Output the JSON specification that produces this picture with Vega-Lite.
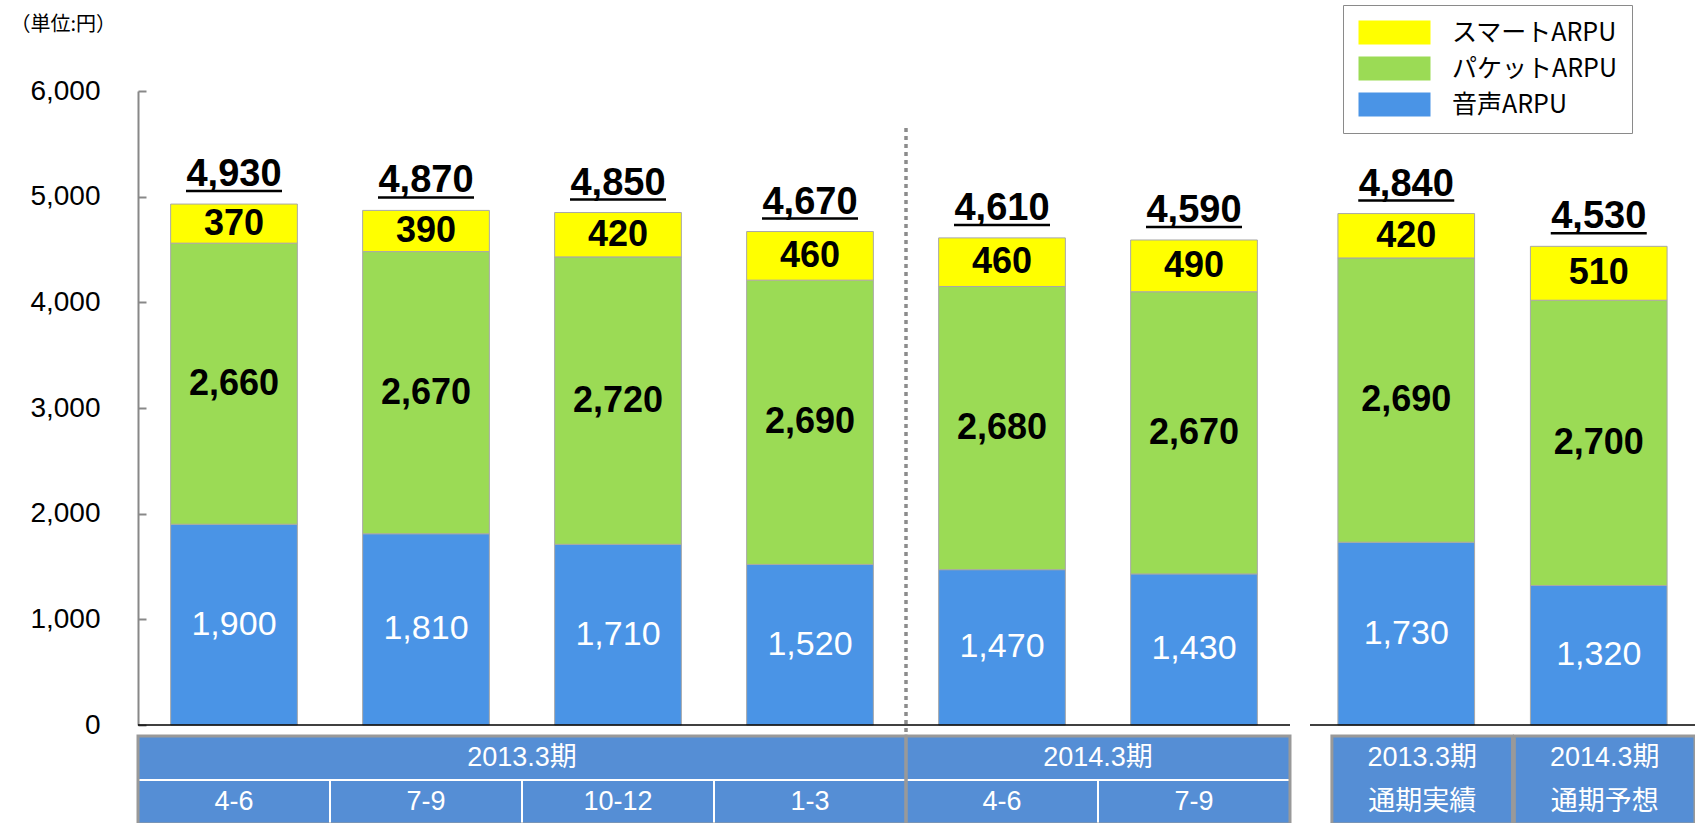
{
  "$schema": "https://vega.github.io/schema/vega-lite/v6.json",
  "background": "white",
  "padding": {"left": 10, "top": 4, "right": 0, "bottom": 0},
  "autosize": {"type": "pad"},
  "config": {"view": {"stroke": null}, "font": "Liberation Sans"},
  "datasets": {
    "quarterly": [
      {"key": "2013.3期 4-6", "type": "音声ARPU", "value": 1900},
      {"key": "2013.3期 4-6", "type": "パケットARPU", "value": 2660},
      {"key": "2013.3期 4-6", "type": "スマートARPU", "value": 370},
      {"key": "2013.3期 7-9", "type": "音声ARPU", "value": 1810},
      {"key": "2013.3期 7-9", "type": "パケットARPU", "value": 2670},
      {"key": "2013.3期 7-9", "type": "スマートARPU", "value": 390},
      {"key": "2013.3期 10-12", "type": "音声ARPU", "value": 1710},
      {"key": "2013.3期 10-12", "type": "パケットARPU", "value": 2720},
      {"key": "2013.3期 10-12", "type": "スマートARPU", "value": 420},
      {"key": "2013.3期 1-3", "type": "音声ARPU", "value": 1520},
      {"key": "2013.3期 1-3", "type": "パケットARPU", "value": 2690},
      {"key": "2013.3期 1-3", "type": "スマートARPU", "value": 460},
      {"key": "2014.3期 4-6", "type": "音声ARPU", "value": 1470},
      {"key": "2014.3期 4-6", "type": "パケットARPU", "value": 2680},
      {"key": "2014.3期 4-6", "type": "スマートARPU", "value": 460},
      {"key": "2014.3期 7-9", "type": "音声ARPU", "value": 1430},
      {"key": "2014.3期 7-9", "type": "パケットARPU", "value": 2670},
      {"key": "2014.3期 7-9", "type": "スマートARPU", "value": 490}
    ],
    "annual": [
      {"key": "2013.3期 通期実績", "type": "音声ARPU", "value": 1730},
      {"key": "2013.3期 通期実績", "type": "パケットARPU", "value": 2690},
      {"key": "2013.3期 通期実績", "type": "スマートARPU", "value": 420},
      {"key": "2014.3期 通期予想", "type": "音声ARPU", "value": 1320},
      {"key": "2014.3期 通期予想", "type": "パケットARPU", "value": 2700},
      {"key": "2014.3期 通期予想", "type": "スマートARPU", "value": 510}
    ],
    "ltable_cells": [
      {"key": "2013.3期 4-6", "row": "top"},
      {"key": "2013.3期 7-9", "row": "top"},
      {"key": "2013.3期 10-12", "row": "top"},
      {"key": "2013.3期 1-3", "row": "top"},
      {"key": "2014.3期 4-6", "row": "top"},
      {"key": "2014.3期 7-9", "row": "top"},
      {"key": "2013.3期 4-6", "row": "bottom", "label": "4-6"},
      {"key": "2013.3期 7-9", "row": "bottom", "label": "7-9"},
      {"key": "2013.3期 10-12", "row": "bottom", "label": "10-12"},
      {"key": "2013.3期 1-3", "row": "bottom", "label": "1-3"},
      {"key": "2014.3期 4-6", "row": "bottom", "label": "4-6"},
      {"key": "2014.3期 7-9", "row": "bottom", "label": "7-9"}
    ],
    "ltable_groups": [
      {"group": "2013.3期", "start": "2013.3期 4-6", "end": "2013.3期 1-3", "mid": "2013.3期 7-9"},
      {"group": "2014.3期", "start": "2014.3期 4-6", "end": "2014.3期 7-9", "mid": "2014.3期 4-6"}
    ],
    "rtable": [
      {"key": "2013.3期 通期実績", "label": "2013.3期\n通期実績"},
      {"key": "2014.3期 通期予想", "label": "2014.3期\n通期予想"}
    ]
  },
  "spacing": 17,
  "resolve": {"scale": {"color": "shared", "x": "independent", "y": "independent"}},
  "hconcat": [
    {
      "vconcat": [
        {
          "width": 1152,
          "height": 634,
          "layer": [
            {
              "data": {"name": "quarterly"},
              "mark": {"type": "bar", "stroke": "#a8a8a8", "strokeWidth": 1},
              "encoding": {
                "x": {"field": "key", "type": "nominal", "axis": null, "sort": null,
                      "scale": {"domain": ["2013.3期 4-6", "2013.3期 7-9", "2013.3期 10-12", "2013.3期 1-3", "2014.3期 4-6", "2014.3期 7-9"], "paddingInner": 0.34, "paddingOuter": 0.17}},
                "y": {"field": "value", "type": "quantitative", "stack": "zero",
                      "scale": {"domain": [0, 6000], "nice": false},
                      "axis": {"values": [0, 1000, 2000, 3000, 4000, 5000, 6000], "format": ",.0f", "grid": false,
                               "labelFont": "Liberation Sans", "labelFontSize": 28, "labelColor": "black", "labelPadding": 46,
                               "tickSize": -8, "tickColor": "#888888", "tickWidth": 2,
                               "domainColor": "#888888", "domainWidth": 2,
                               "title": "（単位:円）", "titleAngle": 0, "titleX": -128, "titleY": -67,
                               "titleAlign": "left", "titleBaseline": "middle", "titleFont": "Noto Sans CJK JP",
                               "titleFontSize": 20, "titleFontWeight": "normal", "titleColor": "black"}},
                "color": {"field": "type", "type": "nominal",
                          "scale": {"domain": ["スマートARPU", "パケットARPU", "音声ARPU"], "range": ["#FFFF00", "#9BDB55", "#4A94E6"]},
                          "legend": {"orient": "none", "legendX": 1205, "legendY": -86, "title": null,
                                     "labelFont": "Noto Sans CJK JP", "labelFontSize": 25, "labelColor": "black", "labelLimit": 400,
                                     "symbolType": "M-1,-1H5V1H-1Z", "symbolSize": 576, "symbolStrokeWidth": 0, "symbolOpacity": 1,
                                     "labelOffset": 69, "rowPadding": 10, "padding": 15,
                                     "strokeColor": "#8a8a8a", "fillColor": "white"}},
                "order": {"field": "type", "sort": "descending"}
              }
            },
            {
              "data": {"name": "quarterly"},
              "mark": {"type": "text", "font": "Liberation Sans", "fontSize": 36, "fontWeight": "bold", "color": "black", "baseline": "middle"},
              "encoding": {
                "x": {"field": "key", "type": "nominal", "axis": null},
                "y": {"field": "value", "type": "quantitative", "stack": "zero", "bandPosition": 0.5},
                "detail": {"field": "type", "type": "nominal"},
                "order": {"field": "type", "sort": "descending"},
                "text": {"condition": {"test": "datum.type !== '音声ARPU'", "field": "value", "type": "quantitative", "format": ","}, "value": ""}
              }
            },
            {
              "data": {"name": "quarterly"},
              "mark": {"type": "text", "font": "Liberation Sans", "fontSize": 34, "fontWeight": "normal", "color": "white", "baseline": "middle"},
              "encoding": {
                "x": {"field": "key", "type": "nominal", "axis": null},
                "y": {"field": "value", "type": "quantitative", "stack": "zero", "bandPosition": 0.5},
                "detail": {"field": "type", "type": "nominal"},
                "order": {"field": "type", "sort": "descending"},
                "text": {"condition": {"test": "datum.type === '音声ARPU'", "field": "value", "type": "quantitative", "format": ","}, "value": ""}
              }
            },
            {
              "data": {"name": "quarterly"},
              "mark": {"type": "text", "font": "Liberation Sans", "fontSize": 38, "fontWeight": "bold", "color": "black", "baseline": "alphabetic", "dy": -18},
              "encoding": {
                "x": {"field": "key", "type": "nominal", "axis": null},
                "y": {"aggregate": "sum", "field": "value", "type": "quantitative"},
                "text": {"aggregate": "sum", "field": "value", "type": "quantitative", "format": ","}
              }
            },
            {
              "data": {"name": "quarterly"},
              "mark": {"type": "tick", "color": "black", "size": 96, "thickness": 2.5, "yOffset": -13, "opacity": 1},
              "encoding": {
                "x": {"field": "key", "type": "nominal", "axis": null},
                "y": {"aggregate": "sum", "field": "value", "type": "quantitative"}
              }
            },
            {
              "data": {"values": [{}]},
              "mark": {"type": "rule", "color": "black", "strokeWidth": 1.5},
              "encoding": {"y": {"datum": 0}}
            },
            {
              "data": {"values": [{}]},
              "mark": {"type": "rule", "color": "#8c8c8c", "strokeWidth": 3.5, "strokeDash": [4, 4]},
              "encoding": {
                "x": {"datum": "2014.3期 4-6", "bandPosition": -0.2576},
                "y": {"datum": 5650},
                "y2": {"datum": -104}
              }
            }
          ]
        },
        {
          "width": 1152,
          "height": 88,
          "layer": [
            {
              "data": {"name": "ltable_cells"},
              "transform": [{"filter": "datum.row === 'top'"}],
              "mark": {"type": "rect", "color": "#558ED5", "strokeWidth": 0},
              "encoding": {
                "x": {"field": "key", "type": "nominal", "axis": null,
                      "scale": {"domain": ["2013.3期 4-6", "2013.3期 7-9", "2013.3期 10-12", "2013.3期 1-3", "2014.3期 4-6", "2014.3期 7-9"], "paddingInner": 0, "paddingOuter": 0}},
                "y": {"field": "row", "type": "nominal", "axis": null,
                      "scale": {"domain": ["top", "bottom"], "paddingInner": 0, "paddingOuter": 0}}
              }
            },
            {
              "data": {"name": "ltable_cells"},
              "transform": [{"filter": "datum.row === 'bottom'"}],
              "mark": {"type": "rect", "color": "#558ED5", "stroke": "white", "strokeWidth": 2},
              "encoding": {
                "x": {"field": "key", "type": "nominal", "axis": null},
                "y": {"field": "row", "type": "nominal", "axis": null}
              }
            },
            {
              "data": {"name": "ltable_cells"},
              "transform": [{"filter": "datum.row === 'bottom'"}],
              "mark": {"type": "text", "font": "Liberation Sans, Noto Sans CJK JP", "fontSize": 27, "color": "white", "baseline": "middle"},
              "encoding": {
                "x": {"field": "key", "type": "nominal", "axis": null},
                "y": {"field": "row", "type": "nominal", "axis": null},
                "text": {"field": "label", "type": "nominal"}
              }
            },
            {
              "data": {"name": "ltable_groups"},
              "mark": {"type": "rect", "filled": false, "color": "#999999", "strokeWidth": 3},
              "encoding": {
                "x": {"field": "start", "type": "nominal", "bandPosition": 0, "axis": null},
                "x2": {"field": "end", "bandPosition": 1}
              }
            },
            {
              "data": {"name": "ltable_groups"},
              "mark": {"type": "text", "font": "Liberation Sans, Noto Sans CJK JP", "fontSize": 27, "color": "white", "baseline": "middle"},
              "encoding": {
                "x": {"field": "mid", "type": "nominal", "bandPosition": 1, "axis": null},
                "y": {"datum": "top"},
                "text": {"field": "group", "type": "nominal"}
              }
            }
          ]
        }
      ],
      "spacing": 11,
      "bounds": "flush",
      "resolve": {"scale": {"color": "shared", "x": "independent", "y": "independent"}}
    },
    {
      "vconcat": [
        {
          "width": 385,
          "height": 634,
          "layer": [
            {
              "data": {"name": "annual"},
              "mark": {"type": "bar", "stroke": "#a8a8a8", "strokeWidth": 1},
              "encoding": {
                "x": {"field": "key", "type": "nominal", "axis": null, "sort": null,
                      "scale": {"domain": ["2013.3期 通期実績", "2014.3期 通期予想"], "paddingInner": 0.29, "paddingOuter": 0.145}},
                "y": {"field": "value", "type": "quantitative", "stack": "zero",
                      "scale": {"domain": [0, 6000], "nice": false},
                      "axis": {"labels": false, "ticks": false, "domain": false, "grid": false,
                               "title": " ", "titleAngle": 0, "titleX": 0, "titleY": -67,
                               "titleAlign": "left", "titleBaseline": "middle", "titleFont": "Noto Sans CJK JP",
                               "titleFontSize": 20, "titleFontWeight": "normal"}},
                "color": {"field": "type", "type": "nominal",
                          "scale": {"domain": ["スマートARPU", "パケットARPU", "音声ARPU"], "range": ["#FFFF00", "#9BDB55", "#4A94E6"]},
                          "legend": {"orient": "none", "legendX": 1205, "legendY": -86, "title": null,
                                     "labelFont": "Noto Sans CJK JP", "labelFontSize": 25, "labelColor": "black", "labelLimit": 400,
                                     "symbolType": "M-1,-1H5V1H-1Z", "symbolSize": 576, "symbolStrokeWidth": 0, "symbolOpacity": 1,
                                     "labelOffset": 69, "rowPadding": 10, "padding": 15,
                                     "strokeColor": "#8a8a8a", "fillColor": "white"}},
                "order": {"field": "type", "sort": "descending"}
              }
            },
            {
              "data": {"name": "annual"},
              "mark": {"type": "text", "font": "Liberation Sans", "fontSize": 36, "fontWeight": "bold", "color": "black", "baseline": "middle"},
              "encoding": {
                "x": {"field": "key", "type": "nominal", "axis": null},
                "y": {"field": "value", "type": "quantitative", "stack": "zero", "bandPosition": 0.5},
                "detail": {"field": "type", "type": "nominal"},
                "order": {"field": "type", "sort": "descending"},
                "text": {"condition": {"test": "datum.type !== '音声ARPU'", "field": "value", "type": "quantitative", "format": ","}, "value": ""}
              }
            },
            {
              "data": {"name": "annual"},
              "mark": {"type": "text", "font": "Liberation Sans", "fontSize": 34, "fontWeight": "normal", "color": "white", "baseline": "middle"},
              "encoding": {
                "x": {"field": "key", "type": "nominal", "axis": null},
                "y": {"field": "value", "type": "quantitative", "stack": "zero", "bandPosition": 0.5},
                "detail": {"field": "type", "type": "nominal"},
                "order": {"field": "type", "sort": "descending"},
                "text": {"condition": {"test": "datum.type === '音声ARPU'", "field": "value", "type": "quantitative", "format": ","}, "value": ""}
              }
            },
            {
              "data": {"name": "annual"},
              "mark": {"type": "text", "font": "Liberation Sans", "fontSize": 38, "fontWeight": "bold", "color": "black", "baseline": "alphabetic", "dy": -18},
              "encoding": {
                "x": {"field": "key", "type": "nominal", "axis": null},
                "y": {"aggregate": "sum", "field": "value", "type": "quantitative"},
                "text": {"aggregate": "sum", "field": "value", "type": "quantitative", "format": ","}
              }
            },
            {
              "data": {"name": "annual"},
              "mark": {"type": "tick", "color": "black", "size": 96, "thickness": 2.5, "yOffset": -13, "opacity": 1},
              "encoding": {
                "x": {"field": "key", "type": "nominal", "axis": null},
                "y": {"aggregate": "sum", "field": "value", "type": "quantitative"}
              }
            },
            {
              "data": {"values": [{}]},
              "mark": {"type": "rule", "color": "black", "strokeWidth": 1.5},
              "encoding": {"y": {"datum": 0}}
            }
          ]
        },
        {
          "width": 385,
          "height": 88,
          "data": {"name": "rtable"},
          "layer": [
            {
              "mark": {"type": "rect", "color": "#558ED5", "stroke": "#999999", "strokeWidth": 3},
              "encoding": {
                "x": {"field": "key", "type": "nominal", "axis": null, "sort": null,
                      "scale": {"domain": ["2013.3期 通期実績", "2014.3期 通期予想"], "paddingInner": 0.01, "paddingOuter": 0.06, "align": 1}}
              }
            },
            {
              "mark": {"type": "text", "font": "Liberation Sans, Noto Sans CJK JP", "fontSize": 27, "color": "white", "baseline": "middle", "lineBreak": "\n", "lineHeight": 44, "dy": -22},
              "encoding": {
                "x": {"field": "key", "type": "nominal", "axis": null},
                "text": {"field": "label", "type": "nominal"}
              }
            }
          ]
        }
      ],
      "spacing": 11,
      "bounds": "flush",
      "resolve": {"scale": {"color": "shared", "x": "independent", "y": "independent"}}
    }
  ]
}
